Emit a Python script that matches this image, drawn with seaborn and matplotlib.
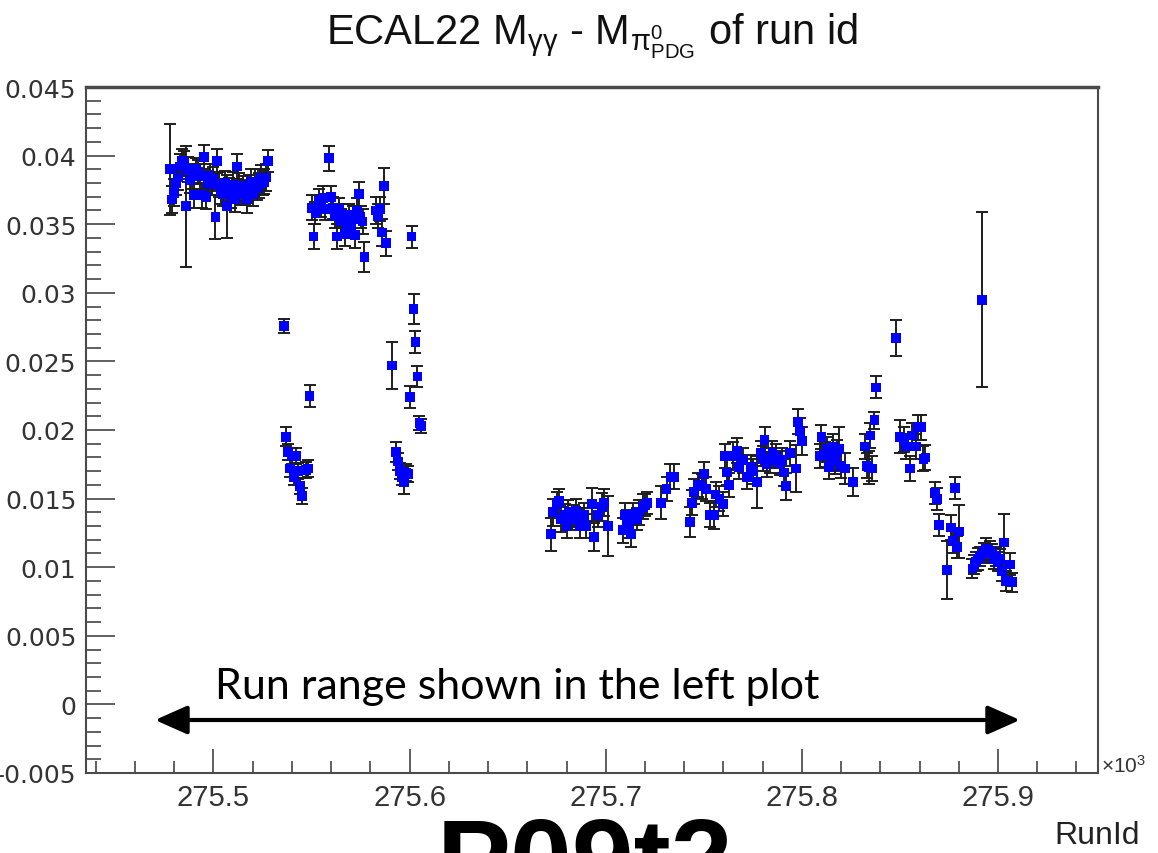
import numpy as np
import pandas as pd
import matplotlib
matplotlib.use('Agg')
import matplotlib.pyplot as plt
from matplotlib.ticker import MultipleLocator, FuncFormatter
import seaborn as sns

# run numbers (offset from 275000) and the mass shift with its error
run_offset = [
    # first block
    478, 479, 480, 481, 482, 483, 484, 485, 486, 487, 488, 489, 490, 491, 492,
    493, 494, 495, 496, 497, 498, 499, 500, 501, 502, 503, 504, 505, 506, 507,
    508, 509, 510, 511, 512, 513, 514, 515, 516, 517, 518, 519, 520, 521, 522,
    523, 524, 525, 526, 527, 528,
    # low group
    536, 537, 538, 539, 540, 541, 542, 543, 544, 545, 547, 548, 549,
    # upper group
    550, 551, 552, 554, 555, 556, 557, 559, 560, 561, 562, 563, 564, 565, 566,
    567, 568, 569, 570, 571, 572, 573, 574, 575, 576, 577, 583, 584, 585, 586,
    587, 588,
    591, 593, 594, 595, 596, 597, 598, 599, 600, 601, 602, 603, 604, 605, 606,
    # second period
    672, 673, 675, 676, 677, 679, 680, 681, 683, 684, 685, 687, 688, 689, 690,
    693, 694, 696, 698, 699, 701, 709, 710, 711, 712, 713, 714, 716, 717, 719,
    720, 721,
    728, 731, 733, 735, 743, 744, 745, 747, 749, 750, 751, 753, 755, 756, 758,
    760, 761, 762, 763, 765, 767, 768, 770, 772, 774, 775, 777, 779, 780, 781,
    782, 784, 785, 787, 789, 790, 791, 792, 794, 797, 798, 799, 800,
    809, 810, 812, 813, 814, 815, 816, 817, 818, 819, 820, 822, 826, 832, 833,
    834, 835, 836, 837, 838,
    848, 850, 852, 853, 855, 856, 858, 859, 861, 862, 863, 868, 869, 870, 874,
    876, 877, 878, 879, 880, 887, 888, 889, 890, 891, 892, 893, 894, 895, 896,
    897, 898, 899, 900, 901, 902, 903, 904, 906, 907,
]

delta_m = [
    0.0390, 0.0368, 0.0373, 0.0380, 0.0384, 0.0392, 0.0396, 0.0394, 0.0363, 0.0390,
    0.0382, 0.0385, 0.0371, 0.0390, 0.0388, 0.0385, 0.0371, 0.0399, 0.0370, 0.0380,
    0.0385, 0.0379, 0.0383, 0.0355, 0.0396, 0.0379, 0.0374, 0.0372, 0.0380, 0.0363,
    0.0376, 0.0371, 0.0379, 0.0368, 0.0392, 0.0378, 0.0372, 0.0376, 0.0373, 0.0368,
    0.0378, 0.0381, 0.0372, 0.0381, 0.0376, 0.0378, 0.0384, 0.0380, 0.0381, 0.0384,
    0.0396,
    0.0276, 0.0195, 0.0184, 0.0172, 0.0181, 0.0166, 0.0181, 0.0170, 0.0159, 0.0152,
    0.0171, 0.0172, 0.0225,
    0.0362, 0.0341, 0.0358, 0.0367, 0.0363, 0.0369, 0.0361, 0.0398, 0.0370, 0.0362,
    0.0356, 0.0341, 0.0361, 0.0352, 0.0357, 0.0343, 0.0350, 0.0357, 0.0349, 0.0354,
    0.0342, 0.0360, 0.0372, 0.0355, 0.0352, 0.0326, 0.0360, 0.0356, 0.0361, 0.0344,
    0.0378, 0.0336,
    0.0247, 0.0184, 0.0177, 0.0170, 0.0166, 0.0162, 0.0169, 0.0168, 0.0224, 0.0341,
    0.0288, 0.0264, 0.0239, 0.0205, 0.0203,
    0.0124, 0.0140, 0.0146, 0.0148, 0.0135, 0.0138, 0.0130, 0.0140, 0.0135, 0.0137,
    0.0141, 0.0130, 0.0135, 0.0138, 0.0130, 0.0146, 0.0122, 0.0138, 0.0144, 0.0147,
    0.0130, 0.0127, 0.0138, 0.0134, 0.0130, 0.0124, 0.0139, 0.0135, 0.0140, 0.0144,
    0.0145, 0.0147,
    0.0147, 0.0157, 0.0166, 0.0166, 0.0133, 0.0147, 0.0155, 0.0160, 0.0159, 0.0168,
    0.0157, 0.0138, 0.0138, 0.0153, 0.0150, 0.0146, 0.0181, 0.0169, 0.0160, 0.0181,
    0.0185, 0.0173, 0.0178, 0.0166, 0.0173, 0.0170, 0.0162, 0.0183, 0.0179, 0.0193,
    0.0175, 0.0178, 0.0183, 0.0181, 0.0176, 0.0178, 0.0169, 0.0159, 0.0183, 0.0172,
    0.0206, 0.0199, 0.0192,
    0.0181, 0.0195, 0.0182, 0.0186, 0.0173, 0.0180, 0.0188, 0.0177, 0.0184, 0.0186,
    0.0174, 0.0172, 0.0162, 0.0188, 0.0174, 0.0173, 0.0196, 0.0172, 0.0207, 0.0231,
    0.0267, 0.0195, 0.0193, 0.0188, 0.0172, 0.0196, 0.0188, 0.0202, 0.0202, 0.0179,
    0.0180, 0.0154, 0.0150, 0.0131, 0.0098, 0.0129, 0.0119, 0.0158, 0.0115, 0.0126,
    0.0099, 0.0102, 0.0104, 0.0106, 0.0108, 0.0295, 0.0111, 0.0113, 0.0110, 0.0112,
    0.0110, 0.0106, 0.0108, 0.0104, 0.0106, 0.0097, 0.0118, 0.0090, 0.0102, 0.0089,
]

delta_m_err = [
    0.0033, 0.0010, 0.0010, 0.0009, 0.0009, 0.0009, 0.0009, 0.0009, 0.0044, 0.0009,
    0.0009, 0.0009, 0.0009, 0.0008, 0.0009, 0.0009, 0.0009, 0.0009, 0.0009, 0.0009,
    0.0009, 0.0008, 0.0009, 0.0016, 0.0009, 0.0009, 0.0009, 0.0009, 0.0009, 0.0023,
    0.0008, 0.0009, 0.0009, 0.0009, 0.0009, 0.0009, 0.0008, 0.0009, 0.0009, 0.0010,
    0.0008, 0.0009, 0.0009, 0.0009, 0.0008, 0.0009, 0.0009, 0.0009, 0.0009, 0.0010,
    0.0008,
    0.0005, 0.0007, 0.0006, 0.0006, 0.0006, 0.0006, 0.0006, 0.0006, 0.0006, 0.0006,
    0.0006, 0.0006, 0.0008,
    0.0009, 0.0009, 0.0008, 0.0009, 0.0008, 0.0009, 0.0008, 0.0009, 0.0008, 0.0008,
    0.0009, 0.0009, 0.0008, 0.0009, 0.0008, 0.0009, 0.0009, 0.0008, 0.0008, 0.0009,
    0.0009, 0.0009, 0.0009, 0.0008, 0.0009, 0.0011, 0.0010, 0.0009, 0.0009, 0.0010,
    0.0013, 0.0009,
    0.0017, 0.0007, 0.0006, 0.0006, 0.0006, 0.0009, 0.0006, 0.0006, 0.0008, 0.0008,
    0.0011, 0.0008, 0.0008, 0.0005, 0.0005,
    0.0012, 0.0010, 0.0009, 0.0009, 0.0009, 0.0008, 0.0009, 0.0009, 0.0008, 0.0008,
    0.0009, 0.0009, 0.0008, 0.0009, 0.0009, 0.0012, 0.0010, 0.0009, 0.0010, 0.0010,
    0.0022, 0.0009, 0.0009, 0.0008, 0.0009, 0.0009, 0.0008, 0.0008, 0.0009, 0.0009,
    0.0008, 0.0008,
    0.0012, 0.0009, 0.0009, 0.0009, 0.0011, 0.0009, 0.0009, 0.0009, 0.0009, 0.0009,
    0.0009, 0.0009, 0.0010, 0.0009, 0.0009, 0.0009, 0.0009, 0.0009, 0.0009, 0.0010,
    0.0009, 0.0009, 0.0009, 0.0009, 0.0009, 0.0009, 0.0019, 0.0009, 0.0009, 0.0009,
    0.0009, 0.0009, 0.0009, 0.0009, 0.0009, 0.0009, 0.0010, 0.0010, 0.0009, 0.0017,
    0.0009, 0.0010, 0.0010,
    0.0009, 0.0009, 0.0009, 0.0009, 0.0009, 0.0009, 0.0009, 0.0009, 0.0009, 0.0016,
    0.0009, 0.0011, 0.0010, 0.0009, 0.0009, 0.0012, 0.0009, 0.0009, 0.0006, 0.0008,
    0.0013, 0.0012, 0.0009, 0.0009, 0.0009, 0.0009, 0.0009, 0.0009, 0.0009, 0.0009,
    0.0009, 0.0008, 0.0008, 0.0008, 0.0021, 0.0009, 0.0009, 0.0008, 0.0008, 0.0019,
    0.0007, 0.0007, 0.0007, 0.0008, 0.0007, 0.0064, 0.0007, 0.0008, 0.0007, 0.0007,
    0.0007, 0.0007, 0.0007, 0.0007, 0.0007, 0.0007, 0.0021, 0.0007, 0.0008, 0.0007,
]

df = pd.DataFrame({
    'run': (275000 + np.array(run_offset)) / 1000.0,
    'dm': delta_m,
    'err': delta_m_err,
})

sns.set_theme(style='white')
narrow = ['Liberation Sans Narrow', 'Liberation Sans', 'DejaVu Sans']
plt.rcParams['font.family'] = ['DejaVu Sans']
plt.rcParams['mathtext.fontset'] = 'custom'
plt.rcParams['mathtext.rm'] = 'Liberation Sans'
plt.rcParams['mathtext.it'] = 'Liberation Sans:italic'
plt.rcParams['mathtext.bf'] = 'Liberation Sans:bold'

W, H = 1158, 854
fig = plt.figure(figsize=(W / 100, H / 100), dpi=100)
ax = fig.add_axes([86 / W, 1 - 774 / H, (1098 - 86) / W, (774 - 88) / H])

ax.errorbar(df['run'], df['dm'], yerr=df['err'], fmt='none', ecolor='#1e1e1e',
            elinewidth=1.4, capsize=4.5, capthick=1.4, zorder=2)
sns.scatterplot(data=df, x='run', y='dm', marker='s', s=50, color='#0000ff',
                edgecolor='none', linewidth=0, legend=False, ax=ax, zorder=3)

ax.set_xlim(275.435, 275.951)
ax.set_ylim(-0.005, 0.045)
ax.set_xlabel('')
ax.set_ylabel('')

ax.xaxis.set_major_locator(MultipleLocator(0.1))
ax.xaxis.set_minor_locator(MultipleLocator(0.02))
ax.yaxis.set_major_locator(MultipleLocator(0.005))
ax.yaxis.set_minor_locator(MultipleLocator(0.001))
ax.xaxis.set_major_formatter(FuncFormatter(lambda v, p: '%g' % round(v, 3)))
ax.yaxis.set_major_formatter(FuncFormatter(lambda v, p: '%g' % round(v, 4)))

ax.tick_params(which='both', direction='in', color='#444444', width=1.2,
               top=False, right=False, bottom=True, left=True)
ax.tick_params(axis='y', which='major', length=21, pad=7, labelsize=18, labelcolor='#333333')
ax.tick_params(axis='y', which='minor', length=11)
ax.tick_params(axis='x', which='major', length=17, pad=7, labelsize=21, labelcolor='#333333')
ax.tick_params(axis='x', which='minor', length=9)
for lab in ax.get_xticklabels():
    lab.set_family(narrow)

for side, sp in ax.spines.items():
    sp.set_color('#4a4a4a')
    sp.set_linewidth(1.5)
ax.spines['top'].set_linewidth(2.5)

# title and axis annotations
fig.text(592 / W, 1 - 36 / H,
         r'ECAL22 M$_{\mathrm{\gamma\gamma}}$ - M$_{\mathrm{\pi^{0}_{PDG}}}$ of run id',
         ha='center', va='center', fontsize=30, family=narrow, color='#111111')
fig.text(1101 / W, 1 - 766 / H, r'$\times10^{3}$', ha='left', va='center',
         fontsize=15, color='#333333')
fig.text(1140 / W, 1 - 836 / H, 'RunId', ha='right', va='center', fontsize=23,
         family=narrow, color='#222222')
# big period label, cut by the lower edge as on the slide
fig.text(585 / W, 1 - 816 / H, 'P09t2', ha='center', va='top', fontsize=80,
         fontweight='bold', family=['Liberation Sans', 'DejaVu Sans'], color='black')

# slide annotation: run range arrow
fig.text(517 / W, 1 - 687 / H, 'Run range shown in the left plot', ha='center',
         va='center', fontsize=31, family=['Lato', 'DejaVu Sans'], color='black')
ax.annotate('', xy=(155, H - 721), xytext=(1020, H - 721),
            xycoords='figure pixels', textcoords='figure pixels',
            arrowprops=dict(arrowstyle='<|-|>,head_length=0.9,head_width=0.4',
                            lw=3, color='black', mutation_scale=22, shrinkA=0, shrinkB=0))

fig.savefig('out.png', dpi=100)
